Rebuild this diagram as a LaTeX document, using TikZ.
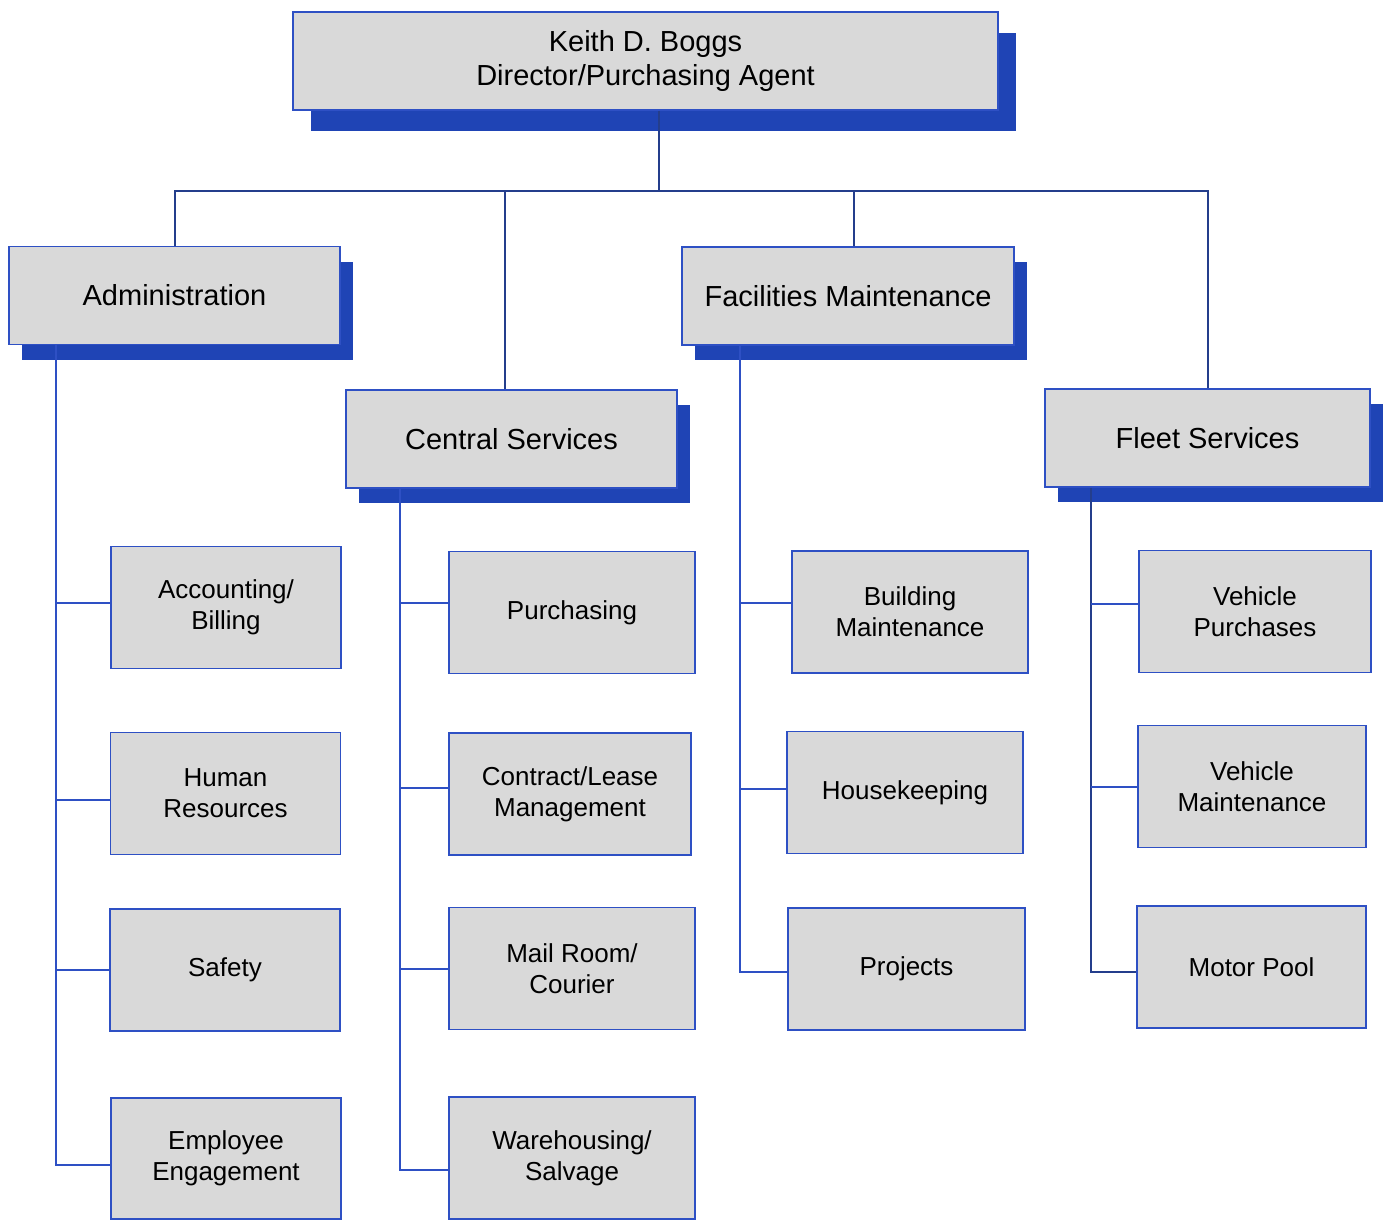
\documentclass[tikz,border=0pt]{standalone}
\usepackage{fontspec}
\setmainfont{Liberation Sans}
\usepackage{xcolor}
\usetikzlibrary{positioning,shadows}

\definecolor{boxfill}{RGB}{217,217,217}
\definecolor{boxline}{RGB}{46,80,196}
\definecolor{shadeblue}{RGB}{31,68,181}
\definecolor{trunkblue}{RGB}{36,62,140}

\begin{document}
\begin{tikzpicture}[
  x=1pt, y=-1pt,
  box/.style={
    draw=boxline, fill=boxfill, line width=1.8pt, align=center,
    inner sep=0pt, text=black
  },
  head/.style={box, minimum height=98pt, font=\fontsize{29}{34}\selectfont},
  division/.style={head,
    drop shadow={shadow xshift=12.5pt, shadow yshift=-15pt, fill=shadeblue, opacity=1}},
  unit/.style={box, minimum height=122pt, font=\fontsize{26}{31}\selectfont},
  trunk/.style={trunkblue, line width=2pt},
  branch/.style={boxline, line width=2pt}
]

\useasboundingbox (0,0) rectangle (1391,1220);

% Director
\node[head, minimum width=705pt,
  drop shadow={shadow xshift=17.5pt, shadow yshift=-21pt, fill=shadeblue, opacity=1}]
  (boss) at (645.5,61) {Keith D. Boggs\\Director/Purchasing Agent};

% Divisions
\node[division, minimum width=331pt] (admin) at (174.5,295.5) {Administration};
\node[division, minimum width=331pt] (central) at (511.5,439) {Central Services};
\node[division, minimum width=332pt] (facil) at (848,296) {Facilities Maintenance};
\node[division, minimum width=325pt] (fleet) at (1207.5,438) {Fleet Services};

% Administration units
\node[unit, minimum width=230pt] (acct) at (226,607.5) {Accounting/\\Billing};
\node[unit, minimum width=230pt] (hr) at (225.5,793.5) {Human\\Resources};
\node[unit, minimum width=230pt] (safety) at (225,970) {Safety};
\node[unit, minimum width=230pt, minimum height=121pt] (empeng) at (226,1158.5) {Employee\\Engagement};

% Central Services units
\node[unit, minimum width=246pt] (purch) at (572,612.5) {Purchasing};
\node[unit, minimum width=242pt] (contract) at (570,794) {Contract/Lease\\Management};
\node[unit, minimum width=246pt] (mail) at (572,968.5) {Mail Room/\\Courier};
\node[unit, minimum width=246pt] (wareh) at (572,1158) {Warehousing/\\Salvage};

% Facilities Maintenance units
\node[unit, minimum width=236pt] (bldg) at (910,612) {Building\\Maintenance};
\node[unit, minimum width=236pt] (house) at (905,792.5) {Housekeeping};
\node[unit, minimum width=237pt] (proj) at (906.5,969) {Projects};

% Fleet Services units
\node[unit, minimum width=232pt] (vpurch) at (1255,611.5) {Vehicle\\Purchases};
\node[unit, minimum width=228pt] (vmaint) at (1252,786.5) {Vehicle\\Maintenance};
\node[unit, minimum width=229pt] (motor) at (1251.5,967) {Motor Pool};

% Trunk lines
\coordinate (hub) at (659,191);
\draw[trunk] (boss.south -| hub) -- (hub);
\draw[trunk] (admin.north) |- (hub);
\draw[trunk] (fleet.north) |- (hub);
\draw[trunk] ([xshift=-6.5pt]central.north) -- ([xshift=-6.5pt]central.north |- hub);
\draw[trunk] ([xshift=6pt]facil.north) -- ([xshift=6pt]facil.north |- hub);

% Spines
\coordinate (aspine) at (56,0);
\coordinate (cspine) at (400,0);
\coordinate (fspine) at (740,0);
\coordinate (vspine) at (1091,0);

\draw[branch] (admin.south -| aspine) |- ([yshift=-6.5pt]empeng.west);
\draw[branch] ([yshift=4.5pt]acct.west) -- ([yshift=4.5pt]acct.west -| aspine);
\draw[branch] ([yshift=-6.5pt]hr.west) -- ([yshift=-6.5pt]hr.west -| aspine);
\draw[branch] (safety.west) -- (safety.west -| aspine);

\draw[branch] (central.south -| cspine) |- ([yshift=-12pt]wareh.west);
\draw[branch] ([yshift=9.5pt]purch.west) -- ([yshift=9.5pt]purch.west -| cspine);
\draw[branch] ([yshift=6pt]contract.west) -- ([yshift=6pt]contract.west -| cspine);
\draw[branch] (mail.west) -- (mail.west -| cspine);

\draw[branch] (facil.south -| fspine) |- ([yshift=-3pt]proj.west);
\draw[branch] ([yshift=9pt]bldg.west) -- ([yshift=9pt]bldg.west -| fspine);
\draw[branch] ([yshift=3.5pt]house.west) -- ([yshift=3.5pt]house.west -| fspine);

\draw[trunk] (fleet.south -| vspine) |- ([yshift=-5pt]motor.west);
\draw[branch] ([yshift=7.5pt]vpurch.west) -- ([yshift=7.5pt]vpurch.west -| vspine);
\draw[branch] (vmaint.west) -- (vmaint.west -| vspine);

\end{tikzpicture}
\end{document}
